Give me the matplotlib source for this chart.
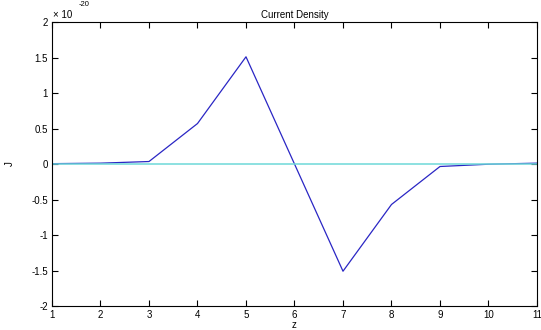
import numpy as np
import matplotlib
matplotlib.use("Agg")
import matplotlib.pyplot as plt
from matplotlib.ticker import FuncFormatter

# current density along z (units of 1e-20)
z = [1, 2, 3, 4, 5, 6, 7, 8, 9, 10, 11]
J = [0.005, 0.012, 0.035, 0.57, 1.51, 0.0, -1.51, -0.57, -0.035, -0.003, 0.012]
yticks = [-2, -1.5, -1, -0.5, 0, 0.5, 1, 1.5, 2]
scale = 1e-20

plt.rcParams['font.family'] = ['Liberation Sans', 'DejaVu Sans']
plt.rcParams['axes.unicode_minus'] = False

def main():
    fig = plt.figure(figsize=(5.41, 3.30), dpi=100)
    ax = fig.add_axes([0.0961, 0.0727, 0.8965, 0.8606])

    Jv = np.array(J) * scale
    ax.plot(z, Jv, color='#2a26c4', lw=0.9)
    ax.plot([z[0], z[-1]], [0, 0], color='#6ed8d8', lw=1.1)

    ax.set_xlim(1, 11)
    ax.set_ylim(-2 * scale, 2 * scale)
    ax.set_xticks(z)
    ax.set_yticks(np.array(yticks) * scale)
    ax.yaxis.set_major_formatter(FuncFormatter(lambda v, p: '%g' % round(v / scale, 4)))
    ax.xaxis.offsetText.set_visible(False)
    ax.yaxis.offsetText.set_visible(False)

    ax.tick_params(direction='in', length=4, width=0.8, labelsize=7,
                   top=True, right=True, pad=3)
    for s in ax.spines.values():
        s.set_linewidth(0.8)

    ax.set_title('Current Density', fontsize=7, pad=3)
    ax.set_xlabel('z', fontsize=7, labelpad=0)
    ax.set_ylabel('J', fontsize=7, labelpad=12)

    # exponent marker for the y axis
    ax.text(0.002, 1.008, u'\u00d7 10', transform=ax.transAxes, fontsize=7,
            ha='left', va='bottom')
    ax.text(0.056, 1.05, '-20', transform=ax.transAxes, fontsize=5.5,
            ha='left', va='bottom')

    fig.savefig('out.png', dpi=100)

if __name__ == "__main__":
    main()
